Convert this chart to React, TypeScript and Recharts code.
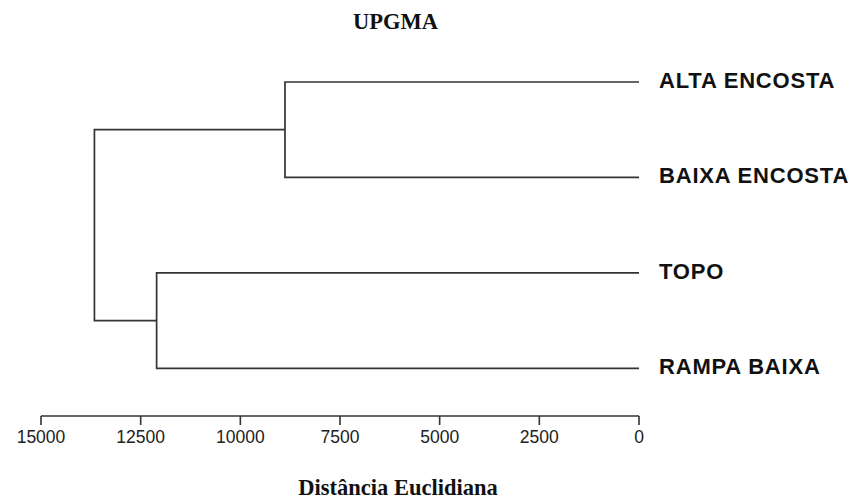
import React from "react";
import { LineChart, Line, XAxis, YAxis } from "recharts";

// Leaves of the dendrogram (top to bottom)
const leafLabels = ["ALTA ENCOSTA", "BAIXA ENCOSTA", "TOPO", "RAMPA BAIXA"];
// UPGMA merges: node ids 0-3 are leaves, merges create nodes 4, 5, 6
const mergeA = [0, 2, 4];
const mergeB = [1, 3, 5];
const mergeHeights = [8880, 12100, 13660];
// Axis ticks
const xTicks = [0, 2500, 5000, 7500, 10000, 12500, 15000];
const leafTicks = [0, 1, 2, 3];

const title = "UPGMA";
const xTitle = "Distância Euclidiana";

// build node positions and bracket segments from the merge table
const nodePos: number[] = leafLabels.map((_, i) => i);
const nodeHeight: number[] = leafLabels.map(() => 0);
const segments: { x: number; y: number }[][] = [];
mergeHeights.forEach((h, k) => {
  const a = mergeA[k];
  const b = mergeB[k];
  segments.push([
    { x: nodeHeight[a], y: nodePos[a] },
    { x: h, y: nodePos[a] },
    { x: h, y: nodePos[b] },
    { x: nodeHeight[b], y: nodePos[b] },
  ]);
  nodePos.push((nodePos[a] + nodePos[b]) / 2);
  nodeHeight.push(h);
});

const LINE = "#333";

const LeafTick = (props: any) => {
  const { x, y, payload } = props;
  return (
    <text
      x={x}
      y={y + 6}
      fontSize={22}
      fontWeight="bold"
      fontFamily="'Liberation Sans', Arial, sans-serif"
      letterSpacing={0.8}
      fill="#111"
      textAnchor="start"
    >
      {leafLabels[payload.value]}
    </text>
  );
};

export default function App() {
  return (
    <div style={{ position: "absolute", left: 0, top: 0, background: "#fff" }}>
      <LineChart
        width={862}
        height={500}
        margin={{ top: 82, right: 0, bottom: 0, left: 41 }}
      >
        <XAxis
          type="number"
          dataKey="x"
          domain={[0, 15000]}
          ticks={xTicks}
          reversed
          height={84}
          stroke={LINE}
          strokeWidth={1.6}
          tickSize={9}
          tickMargin={6}
          interval={0}
          tick={{
            fill: "#222",
            fontSize: 17.5,
            fontFamily: "'Liberation Sans', Arial, sans-serif",
          }}
          allowDataOverflow
        />
        <YAxis
          type="number"
          dataKey="y"
          orientation="right"
          domain={[0, 3.5]}
          ticks={leafTicks}
          reversed
          width={223}
          axisLine={false}
          tickLine={false}
          tickSize={0}
          tickMargin={20}
          interval={0}
          tick={<LeafTick />}
        />
        {segments.map((seg, i) => (
          <Line
            key={i}
            data={seg}
            dataKey="y"
            type="linear"
            stroke={LINE}
            strokeWidth={1.7}
            dot={false}
            activeDot={false}
            isAnimationActive={false}
          />
        ))}
        <text
          x={395.5}
          y={29}
          textAnchor="middle"
          fontSize={22.5}
          fontWeight="bold"
          fontFamily="'Liberation Serif', 'Times New Roman', serif"
          fill="#111"
        >
          {title}
        </text>
        <text
          x={398}
          y={495}
          textAnchor="middle"
          fontSize={22.5}
          fontWeight="bold"
          fontFamily="'Liberation Serif', 'Times New Roman', serif"
          fill="#111"
        >
          {xTitle}
        </text>
      </LineChart>
    </div>
  );
}
